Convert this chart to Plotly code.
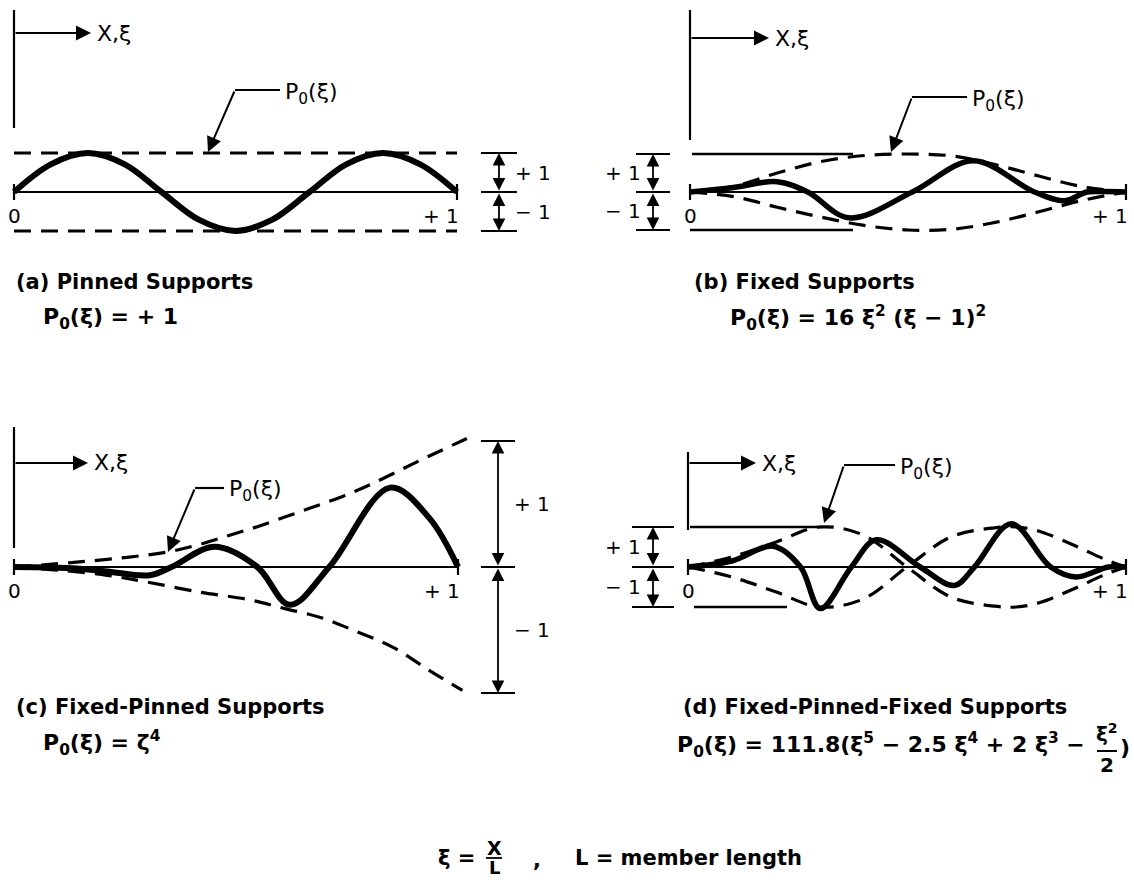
import plotly.graph_objects as go

W, H = 1134, 880
FONT = "DejaVu Sans"

# ---------------- data: mode shapes and envelopes P0(xi) ----------------
# (a) pinned supports
xi_a = [0, 0.083, 0.167, 0.25, 0.333, 0.417, 0.5, 0.583, 0.667, 0.75, 0.833, 0.917, 1.0]
mode_a = [0, 0.71, 1.0, 0.71, 0, -0.71, -1.0, -0.71, 0, 0.71, 1.0, 0.71, 0]
env_xi_a = [0, 1.0]
env_up_a = [1, 1]
env_lo_a = [-1, -1]

# (b) fixed supports
xi_b = [0, 0.1, 0.2, 0.27, 0.365, 0.51, 0.65, 0.79, 0.86, 0.91, 0.95, 1.0]
mode_b = [0, 0.12, 0.27, 0, -0.68, 0, 0.82, 0, -0.23, 0, 0.01, 0]
env_xi_b = [0, 0.1, 0.2, 0.3, 0.4, 0.5, 0.6, 0.7, 0.8, 0.9, 1.0]
env_up_b = [0, 0.15, 0.5, 0.8, 0.96, 1.0, 0.95, 0.72, 0.42, 0.14, 0]
env_lo_b = [0, -0.12, -0.4, -0.66, -0.88, -1.0, -0.98, -0.8, -0.52, -0.22, 0]

# (c) fixed-pinned supports
xi_c = [0, 0.13, 0.21, 0.306, 0.355, 0.452, 0.548, 0.621, 0.71, 0.847, 0.935, 1.0]
mode_c = [0, -0.01, -0.035, -0.065, 0, 0.16, 0, -0.30, 0, 0.63, 0.39, 0]
env_xi_c_up = [0, 0.13, 0.25, 0.347, 0.419, 0.484, 0.548, 0.613, 0.677, 0.74, 0.806, 0.911, 1.02]
env_up_c = [0, 0.035, 0.075, 0.12, 0.18, 0.25, 0.32, 0.40, 0.48, 0.56, 0.66, 0.84, 1.02]
env_xi_c_lo = [0, 0.1, 0.21, 0.3, 0.42, 0.53, 0.61, 0.69, 0.77, 0.855, 0.935, 1.01]
env_lo_c = [0, -0.025, -0.066, -0.12, -0.2, -0.26, -0.33, -0.40, -0.51, -0.64, -0.82, -0.98]

# (d) fixed-pinned-fixed supports
xi_d = [0, 0.1, 0.195, 0.257, 0.302, 0.373, 0.43, 0.53, 0.608, 0.654, 0.738, 0.828, 0.886, 0.96, 1.0]
mode_d = [0, 0.15, 0.52, 0, -1.04, 0, 0.68, 0, -0.46, 0, 1.08, 0, -0.25, 0, 0]
env_xi_d = [0, 0.1, 0.2, 0.3, 0.4, 0.5, 0.6, 0.7, 0.75, 0.8, 0.88, 0.95, 1.0]
env_up_d = [0, 0.25, 0.62, 1.0, 0.8, 0, -0.75, -0.98, -1.0, -0.9, -0.55, -0.2, 0]
env_lo_d = [0, -0.25, -0.62, -1.0, -0.8, 0, 0.75, 0.98, 1.0, 0.9, 0.55, 0.2, 0]

titles = ["(a) Pinned Supports", "(b) Fixed Supports",
          "(c) Fixed-Pinned Supports", "(d) Fixed-Pinned-Fixed Supports"]
formulas = ["P<sub>0</sub>(ξ) = + 1",
            "P<sub>0</sub>(ξ) = 16 ξ<sup>2</sup> (ξ − 1)<sup>2</sup>",
            "P<sub>0</sub>(ξ) = ζ<sup>4</sup>",
            "P<sub>0</sub>(ξ) = 111.8(ξ<sup>5</sup> − 2.5 ξ<sup>4</sup> + 2 ξ<sup>3</sup> − "]

# ---------------- panel geometry (page pixels) ----------------
# box = (left, right, top, bottom) of each axis domain; xi=0 at x0, xi=1 at x1,
# P=0 at y0, one unit of P spans `unit` pixels
panels = [
    dict(box=(0, 560, 0, 260), x0=14, x1=457, y0=192, unit=39),
    dict(box=(570, 1134, 0, 260), x0=690, x1=1126, y0=192, unit=38),
    dict(box=(0, 560, 410, 720), x0=14, x1=458, y0=567, unit=126),
    dict(box=(570, 1134, 420, 640), x0=688, x1=1126, y0=567, unit=40),
]

fig = go.Figure()
layout_axes = {}
shapes = []
annotations = []


def refs(i):
    s = "" if i == 0 else str(i + 1)
    return "x" + s, "y" + s


for i, p in enumerate(panels):
    bx0, bx1, by0, by1 = p["box"]
    span = p["x1"] - p["x0"]
    xr = [(bx0 - p["x0"]) / span, (bx1 - p["x0"]) / span]
    yr = [(p["y0"] - by1) / p["unit"], (p["y0"] - by0) / p["unit"]]
    xa, ya = refs(i)
    layout_axes["xaxis" + xa[1:]] = dict(domain=[bx0 / W, bx1 / W], range=xr, visible=False,
                                         anchor=ya, fixedrange=True)
    layout_axes["yaxis" + ya[1:]] = dict(domain=[1 - by1 / H, 1 - by0 / H], range=yr,
                                         visible=False, anchor=xa, fixedrange=True)
    # conversions for page-pixel offsets inside this panel
    p["dx"] = 1.0 / span
    p["dy"] = 1.0 / p["unit"]


def line(i, x0, y0, x1, y1, w=2.2):
    xa, ya = refs(i)
    shapes.append(dict(type="line", xref=xa, yref=ya, x0=x0, y0=y0, x1=x1, y1=y1,
                       line=dict(color="black", width=w), layer="above"))


def arrow(i, xt, yt, xh, yh, both=False, w=2, size=1.1):
    xa, ya = refs(i)
    d = dict(xref=xa, yref=ya, axref=xa, ayref=ya, x=xh, y=yh, ax=xt, ay=yt,
             text="", showarrow=True, arrowhead=2, arrowsize=size, arrowwidth=w,
             arrowcolor="black", standoff=0, startstandoff=0)
    if both:
        d.update(arrowside="end+start", startarrowhead=2, startarrowsize=size)
    annotations.append(d)


def text(i, x, y, s, size=20, xanchor="left", yanchor="middle", bold=False):
    xa, ya = refs(i)
    if bold:
        s = "<b>" + s + "</b>"
    annotations.append(dict(xref=xa, yref=ya, x=x, y=y, text=s, showarrow=False,
                            xanchor=xanchor, yanchor=yanchor,
                            font=dict(family=FONT, size=size, color="black")))


def curve(i, xs, ys, width, dash=None):
    xa, ya = refs(i)
    fig.add_trace(go.Scatter(
        x=xs, y=ys, xaxis=xa, yaxis=ya, mode="lines", cliponaxis=False,
        line=dict(color="black", width=width, shape="spline", smoothing=1.0,
                  dash=dash if dash else "solid"),
        hoverinfo="skip", showlegend=False))


DASH = "17px,10px"
curve(0, env_xi_a, env_up_a, 3.2, DASH)
curve(0, env_xi_a, env_lo_a, 3.2, DASH)
curve(0, xi_a, mode_a, 6)

curve(1, env_xi_b, env_up_b, 3.2, DASH)
curve(1, env_xi_b, env_lo_b, 3.2, DASH)
curve(1, xi_b, mode_b, 5.5)

curve(2, env_xi_c_up, env_up_c, 3.2, DASH)
curve(2, env_xi_c_lo, env_lo_c, 3.2, DASH)
curve(2, xi_c, mode_c, 6)

curve(3, env_xi_d, env_up_d, 3.2, DASH)
curve(3, env_xi_d, env_lo_d, 3.2, DASH)
curve(3, xi_d, mode_d, 5.5)

# ---------------- per-panel furniture ----------------
for i, p in enumerate(panels):
    dx, dy = p["dx"], p["dy"]
    # member axis with end ticks
    line(i, 0, 0, 1, 0, 2.2)
    line(i, 0, -8 * dy, 0, 8 * dy, 2.2)
    line(i, 1, -8 * dy, 1, 8 * dy, 2.2)
    text(i, 0, -24 * dy, "0", 20, xanchor="center")
    text(i, 1 + 4 * dx, -24 * dy, "+ 1", 20, xanchor="right")

# origin marker with X, xi arrow
marker = [  # (top of vertical line, bottom, arrow level, arrow tip) in pixels from origin
    (182, 64, 159, 77),
    (182, 52, 154, 79),
    (140, 19, 104, 74),
    (115, 37, 104, 68),
]
for i, (top, bot, lev, tip) in enumerate(marker):
    p = panels[i]
    dx, dy = p["dx"], p["dy"]
    line(i, 0, top * dy, 0, bot * dy, 2.2)
    arrow(i, 0, lev * dy, tip * dx, lev * dy, w=2, size=1.5)
    text(i, (tip + 4) * dx, lev * dy, "X,ξ", 22)

# P0(xi) leader lines: horizontal start, horizontal end, level, arrow tip (pixels from origin)
leaders = [
    (221, 266, 102, 194, 40),
    (222, 277, 95, 201, 40),
    (181, 210, 79, 154, 15),
    (156, 207, 102, 136, 44),
]
for i, (h0, h1, lev, tx, ty) in enumerate(leaders):
    p = panels[i]
    dx, dy = p["dx"], p["dy"]
    line(i, h0 * dx, lev * dy, h1 * dx, lev * dy, 2.2)
    arrow(i, h0 * dx, lev * dy, tx * dx, ty * dy, w=2, size=1.5)
    text(i, (h1 + 3) * dx, (lev - 3) * dy, "P<sub>0</sub>(ξ)", 22)

# dimension bars for +1 / -1
dims = [  # x of bar (pixels from origin), tick half width, label side
    (485, 18, "right"),
    (-37, 17, "left"),
    (484, 17, "right"),
    (-35, 21, "left"),
]
for i, (bx, hw, side) in enumerate(dims):
    p = panels[i]
    dx, dy = p["dx"], p["dy"]
    for v in (1, 0, -1):
        line(i, (bx - hw) * dx, v, (bx + hw) * dx, v, 2.2)
    arrow(i, bx * dx, 0, bx * dx, 1, both=True, w=1.8, size=1.4)
    arrow(i, bx * dx, 0, bx * dx, -1, both=True, w=1.8, size=1.4)
    if side == "right":
        text(i, (bx + 14) * dx, 0.5, "+ 1", 20)
        text(i, (bx + 14) * dx, -0.5, "− 1", 20)
    else:
        text(i, (bx - 10) * dx, 0.5, "+ 1", 20, xanchor="right")
        text(i, (bx - 10) * dx, -0.5, "− 1", 20, xanchor="right")

# reference lines at +1 / -1 beside the origin
line(1, 2 * panels[1]["dx"], 1, 163 * panels[1]["dx"], 1, 2.4)
line(1, 0, -1, 163 * panels[1]["dx"], -1, 2.4)
line(3, 2 * panels[3]["dx"], 1, 134 * panels[3]["dx"], 1, 2.4)
line(3, 6 * panels[3]["dx"], -1, 99 * panels[3]["dx"], -1, 2.4)


def ptext(x, y, s, size=21, xanchor="left"):
    annotations.append(dict(xref="paper", yref="paper", x=x / W, y=1 - y / H,
                            text="<b>" + s + "</b>", showarrow=False,
                            xanchor=xanchor, yanchor="middle",
                            font=dict(family=FONT, size=size, color="black")))


def pline(x0, y0, x1, y1, w=2):
    shapes.append(dict(type="line", xref="paper", yref="paper", x0=x0 / W, y0=1 - y0 / H,
                       x1=x1 / W, y1=1 - y1 / H, line=dict(color="black", width=w)))


# captions and formulas (page pixels)
cap_pos = [(14, 282, 41, 318), (692, 282, 728, 318), (14, 707, 41, 743), (681, 707, 675, 745)]
for (tx, ty, fx, fy), t, f in zip(cap_pos, titles, formulas):
    ptext(tx, ty, t, 21)
    ptext(fx, fy, f, 22)

# fraction xi^2 / 2 closing formula (d)
ptext(1107, 733, "ξ<sup>2</sup>", 20, "center")
pline(1097, 751, 1117, 751, 2)
ptext(1107, 765, "2", 20, "center")
ptext(1118, 747, ")", 22)

# bottom definition line
ptext(436, 858, "ξ =", 21)
ptext(494, 848, "X", 19, "center")
pline(486, 858, 502, 858, 1.8)
ptext(494, 867, "L", 18, "center")
ptext(531, 860, ",", 21)
ptext(573, 858, "L = member length", 21)

fig.update_layout(
    width=W, height=H, margin=dict(l=0, r=0, t=0, b=0),
    paper_bgcolor="white", plot_bgcolor="white",
    shapes=shapes, annotations=annotations, showlegend=False,
    **layout_axes,
)
fig.write_html("out.html", config={"displayModeBar": False})
